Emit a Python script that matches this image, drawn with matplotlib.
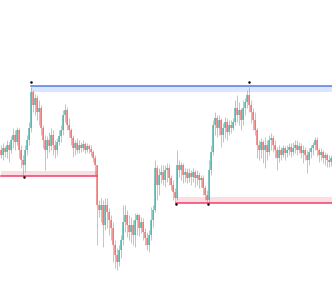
import matplotlib
matplotlib.use('Agg')
import matplotlib.pyplot as plt
import numpy as np

# OHLC candles, one per bar
opens = [138, 133, 140, 136, 143, 138, 148, 153, 146, 158, 138, 128, 123, 138, 148, 160,
         196, 183, 190, 176, 180, 160, 148, 138, 148, 142, 153, 143, 138, 146, 152, 158,
         173, 178, 163, 158, 150, 140, 145, 138, 143, 140, 144, 138, 142, 139, 136, 130,
         123, 83, 78, 83, 63, 83, 76, 68, 60, 43, 33, 26, 38, 48, 66, 73,
         63, 56, 63, 53, 68, 73, 60, 66, 56, 50, 43, 53, 68, 78, 120, 103,
         113, 116, 108, 118, 120, 110, 103, 96, 90, 123, 118, 123, 113, 116, 110, 115,
         111, 116, 110, 113, 108, 110, 100, 93, 88, 118, 136, 163, 170, 160, 168, 153,
         160, 166, 156, 163, 160, 166, 180, 173, 178, 168, 180, 186, 193, 183, 176, 168,
         158, 143, 138, 146, 138, 143, 136, 148, 150, 143, 138, 130, 138, 133, 140, 135,
         138, 141, 136, 140, 143, 138, 142, 135, 138, 133, 128, 136, 140, 143, 148, 138,
         133, 136, 130, 133, 128, 126]
highs = [143, 145, 142, 148, 146, 152, 160, 158, 161, 160, 143, 133, 143, 153, 166, 201,
         198, 194, 193, 188, 183, 163, 153, 152, 156, 160, 158, 148, 150, 158, 163, 178,
         184, 181, 170, 160, 153, 148, 150, 148, 146, 148, 146, 145, 144, 143, 138, 133,
         123, 88, 90, 88, 90, 90, 80, 73, 66, 48, 40, 43, 53, 83, 83, 78,
         73, 71, 68, 75, 75, 74, 71, 70, 60, 56, 58, 81, 83, 128, 123, 120,
         123, 123, 123, 125, 124, 113, 108, 100, 138, 128, 126, 125, 120, 120, 120, 118,
         120, 118, 118, 116, 113, 113, 103, 98, 128, 143, 168, 176, 173, 173, 170, 165,
         171, 170, 168, 168, 170, 188, 193, 186, 180, 188, 190, 198, 201, 188, 180, 176,
         160, 148, 150, 148, 151, 148, 153, 155, 153, 148, 141, 143, 141, 143, 142, 143,
         145, 145, 146, 148, 148, 146, 145, 143, 141, 138, 140, 143, 146, 151, 151, 140,
         140, 138, 136, 135, 133, 133]
lows = [130, 128, 131, 130, 126, 135, 140, 138, 143, 130, 120, 112, 116, 133, 143, 156,
        176, 173, 168, 163, 153, 140, 118, 130, 136, 138, 133, 130, 133, 143, 146, 153,
        166, 158, 151, 143, 131, 133, 135, 135, 136, 137, 135, 136, 135, 132, 126, 113,
        43, 71, 66, 41, 58, 60, 53, 48, 26, 20, 18, 22, 30, 43, 56, 51,
        48, 45, 43, 41, 53, 52, 55, 48, 43, 38, 36, 48, 61, 76, 88, 93,
        105, 103, 101, 106, 103, 98, 88, 85, 88, 111, 108, 105, 106, 105, 106, 103,
        106, 101, 103, 100, 101, 93, 88, 85, 86, 113, 133, 153, 151, 153, 141, 146,
        150, 148, 153, 155, 158, 163, 166, 163, 158, 163, 173, 180, 176, 165, 158, 153,
        130, 128, 130, 125, 120, 128, 133, 138, 136, 130, 118, 126, 128, 131, 128, 131,
        133, 131, 133, 135, 133, 135, 130, 125, 128, 115, 123, 130, 133, 138, 132, 126,
        128, 125, 123, 121, 121, 122]
closes = [133, 140, 136, 143, 138, 148, 153, 146, 158, 138, 128, 123, 138, 148, 160, 196,
          183, 190, 176, 180, 160, 148, 138, 148, 142, 153, 143, 138, 146, 152, 158, 173,
          178, 163, 158, 150, 140, 145, 138, 143, 140, 144, 138, 142, 139, 136, 130, 123,
          83, 78, 83, 63, 83, 76, 68, 60, 43, 33, 26, 38, 48, 66, 73, 63,
          56, 63, 53, 68, 73, 60, 66, 56, 50, 43, 53, 68, 78, 120, 103, 113,
          116, 108, 118, 120, 110, 103, 96, 90, 123, 118, 123, 113, 116, 110, 115, 111,
          116, 110, 113, 108, 110, 100, 93, 88, 118, 136, 163, 170, 160, 168, 153, 160,
          166, 156, 163, 160, 166, 180, 173, 178, 168, 180, 186, 193, 183, 176, 168, 158,
          143, 138, 146, 138, 143, 136, 148, 150, 143, 138, 130, 138, 133, 140, 135, 138,
          141, 136, 140, 143, 138, 142, 135, 138, 133, 128, 136, 140, 143, 148, 138, 133,
          136, 130, 133, 128, 126, 130]

# resistance / support zones: (start bar, end bar, line level, zone edge)
resistance = [(15, 166, 202, 196)]
supports = [(0, 48, 112, 117), (87.5, 166, 85, 91)]

# swing pivots (bar, price)
pivot_bars = [15, 124, 11.5, 87.5, 103.5]
pivot_prices = [206, 206, 111, 84, 84]

UP = '#26a69a'
DOWN = '#ef5350'


def main():
    n = len(closes)
    x = np.arange(n)
    o = np.array(opens)
    c = np.array(closes)
    colors = np.where(c >= o, UP, DOWN)

    fig = plt.figure(figsize=(3.32, 2.88), dpi=100)
    ax = fig.add_axes([0, 0, 1, 1])

    for x0, x1, lvl, edge in resistance:
        ax.fill_between([x0, x1], lvl, edge, color='#dce5fb', lw=0, zorder=1)
        ax.plot([x0, x1], [lvl, lvl], color='#4f7fe3', lw=1.1, zorder=3)
    for x0, x1, lvl, edge in supports:
        ax.fill_between([x0, x1], lvl, edge, color='#fbdde4', lw=0, zorder=1)
        ax.plot([x0, x1], [lvl, lvl], color='#f0406a', lw=1.1, zorder=3)

    ax.vlines(x, lows, highs, colors=colors, lw=0.6, alpha=0.55, zorder=2)
    ax.bar(x, c - o, bottom=o, width=0.6, color=colors, alpha=0.6,
           lw=0, zorder=2)

    ax.plot(pivot_bars, pivot_prices, 'k.', ms=1.6, zorder=4)

    ax.set_xlim(-0.5, n - 0.5)
    ax.set_ylim(0, 288)
    ax.axis('off')
    fig.savefig('out.png', dpi=100)


if __name__ == '__main__':
    main()
